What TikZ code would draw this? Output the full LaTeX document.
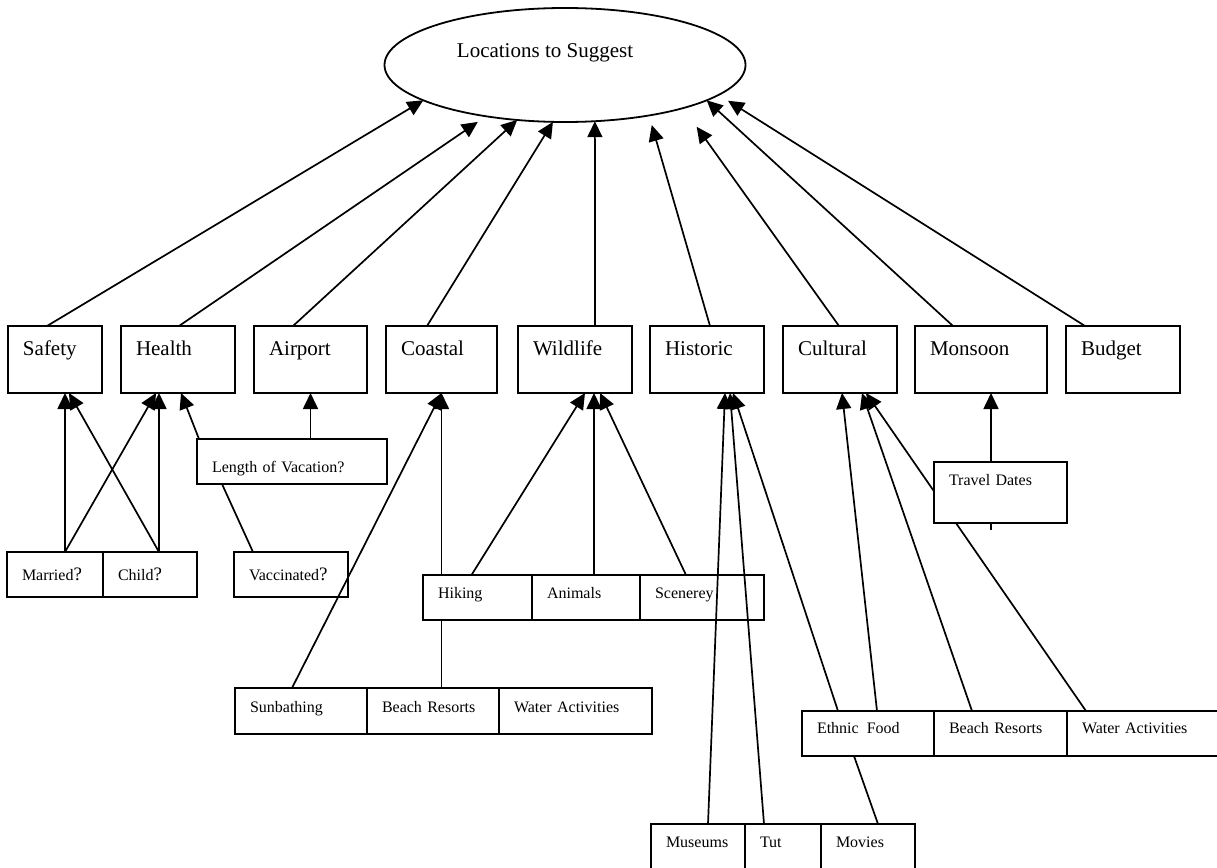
\documentclass[tikz,border=0pt]{standalone}
\usepackage{fontspec}
\setmainfont{Liberation Serif}
\usetikzlibrary{arrows.meta,shapes.geometric}
\tikzset{
  bigbox/.style={draw, rectangle, line width=1.8pt, anchor=north west, inner xsep=15pt, inner ysep=0pt, outer sep=0pt,
    align=left, text width=#1, text height=29pt, text depth=38pt, font=\fontsize{21}{25}\selectfont},
  smallbox/.style n args={3}{draw, rectangle, line width=1.8pt, anchor=north west, inner xsep=15pt, inner ysep=0pt, outer sep=0pt,
    align=left, text width=#1, text height=#2, text depth=#3, font=\fontsize{16}{19}\selectfont},
  arr/.style={line width=1.7pt, -{Triangle[length=16pt,width=15pt]}},
  link/.style={line width=1.7pt}
}
\newcommand{\qm}{{\fontsize{19}{19}\selectfont ?}}
\begin{document}
\begin{tikzpicture}[x=1pt,y=-1pt]
	\useasboundingbox (0,0) rectangle (1217,867);
	\node[draw, ellipse, line width=1.8pt, minimum width=361pt, minimum height=114pt, inner sep=0pt, outer sep=0pt,
	  label={[xshift=-20pt,yshift=12pt,font=\fontsize{21}{25}\selectfont]center:Locations to Suggest}] (loc) at (565,65) {};
	\node[bigbox=64pt] (safety) at (8,326) {Safety};
	\node[bigbox=84pt] (health) at (121,326) {Health};
	\node[bigbox=83pt] (airport) at (254,326) {Airport};
	\node[bigbox=81pt] (coastal) at (386,326) {Coastal};
	\node[bigbox=84pt] (wildlife) at (518,326) {Wildlife};
	\node[bigbox=84pt] (historic) at (650,326) {Historic};
	\node[bigbox=84pt] (cultural) at (783,326) {Cultural};
	\node[bigbox=102pt] (monsoon) at (915,326) {Monsoon};
	\node[bigbox=84pt] (budget) at (1066,326) {Budget};
	\node[smallbox={66pt}{28pt}{17pt}] (married) at (7,552) {Married\qm};
	\node[smallbox={64pt}{28pt}{17pt}] (child) at (103,552) {Child\qm};
	\node[smallbox={84pt}{28pt}{17pt}] (vaccinated) at (234,552) {Vaccinated\qm};
	\node[smallbox={160pt}{33pt}{12pt}] (length) at (197,439) {Length of Vacation?};
	\node[smallbox={79pt}{23pt}{22pt}] (hiking) at (423,575) {Hiking};
	\node[smallbox={78pt}{23pt}{22pt}] (animals) at (532,575) {Animals};
	\node[smallbox={94pt}{23pt}{22pt}] (scenerey) at (640,575) {Scenerey};
	\node[smallbox={102pt}{24pt}{22pt}] (sunbathing) at (235,688) {Sunbathing};
	\node[smallbox={102pt}{24pt}{22pt}] (beachA) at (367,688) {Beach Resorts};
	\node[smallbox={123pt}{24pt}{22pt}] (waterA) at (499,688) {Water Activities};
	\node[smallbox={102pt}{22pt}{23pt}] (ethnic) at (802,711) {Ethnic\hspace{0.5em}Food};
	\node[smallbox={103pt}{22pt}{23pt}] (beachB) at (934,711) {Beach Resorts};
	\node[smallbox={122pt}{22pt}{23pt}] (waterB) at (1067,711) {Water Activities};
	\node[smallbox={64pt}{23pt}{22pt}] (museums) at (651,824) {Museums};
	\node[smallbox={46pt}{23pt}{22pt}] (tut) at (745,824) {Tut};
	\node[smallbox={64pt}{23pt}{22pt}] (movies) at (821,824) {Movies};

	\draw[arr] ([xshift=-8pt]safety.north) -- (loc.194);
	\draw[arr, shorten >=10pt] ([xshift=1pt]health.north) -- (loc.213);
	\draw[arr] ([xshift=-17.5pt]airport.north) -- (loc.229);
	\draw[arr] ([xshift=-14.5pt]coastal.north) -- (loc.258);
	\draw[arr] ([xshift=20pt]wildlife.north) -- (loc.298);
	\draw[arr, shorten >=10pt] ([xshift=3pt]historic.north) -- (loc.329);
	\draw[arr, shorten >=23pt] ([xshift=-1pt]cultural.north) -- (loc.340);
	\draw[arr] ([xshift=-28pt]monsoon.north) -- (loc.346);
	\draw[arr, shorten >=11pt] ([xshift=-38pt]budget.north) -- (loc.349);

	\draw[arr] ([xshift=10pt]married.north) -- ([xshift=10pt]safety.south);
	\draw[arr] ([xshift=9pt]child.north) -- ([xshift=14pt]safety.south);
	\draw[arr] ([xshift=10pt]married.north) -- ([xshift=-22pt]health.south);
	\draw[arr] ([xshift=9pt]child.north) -- ([xshift=-19pt]health.south);
	\draw[arr] ([xshift=2pt]length.north west) -- ([xshift=3pt]health.south);
	\draw[arr] (length.north -| airport.south) -- (airport.south);
	\draw[link] ([xshift=-38pt]vaccinated.north) -- ([xshift=-70pt]length.south);

	\draw[arr] ([xshift=-9pt]sunbathing.north) -- (coastal.south);
	\draw[arr] (hiking.north -| coastal.south) -- (coastal.south);
	\draw[link] (hiking.south -| coastal.south) -- (beachA.north -| coastal.south);
	\draw[arr] ([xshift=-6pt]hiking.north) -- ([xshift=10pt]wildlife.south);
	\draw[arr] ([xshift=8pt]animals.north) -- ([xshift=19pt]wildlife.south);
	\draw[arr] ([xshift=-16pt]scenerey.north) -- ([xshift=25pt]wildlife.south);

	\draw[arr] ([xshift=10pt]museums.north) -- ([xshift=18pt]historic.south);
	\draw[arr] ([xshift=-19pt]tut.north) -- ([xshift=23pt]historic.south);
	\draw[arr] ([xshift=-30pt]ethnic.north) -- ([xshift=26pt]historic.south);
	\draw[link] ([xshift=10pt]movies.north) -- ([xshift=-14pt]ethnic.south);

	\draw[arr] ([xshift=9pt]ethnic.north) -- ([xshift=2pt]cultural.south);
	\draw[arr] ([xshift=-28.5pt]beachB.north) -- ([xshift=22pt]cultural.south);
	\draw[arr] ([xshift=-57pt]waterB.north) -- ([xshift=26pt]cultural.south);

	\node[smallbox={103pt}{23pt}{38pt}, fill=white] (travel) at (934,462) {Travel Dates};
	\draw[arr] ([xshift=-9.5pt]travel.north) -- ([xshift=10pt]monsoon.south);
	\draw[link] ([xshift=-9.5pt]travel.south) -- ++(0,7);
\end{tikzpicture}
\end{document}
